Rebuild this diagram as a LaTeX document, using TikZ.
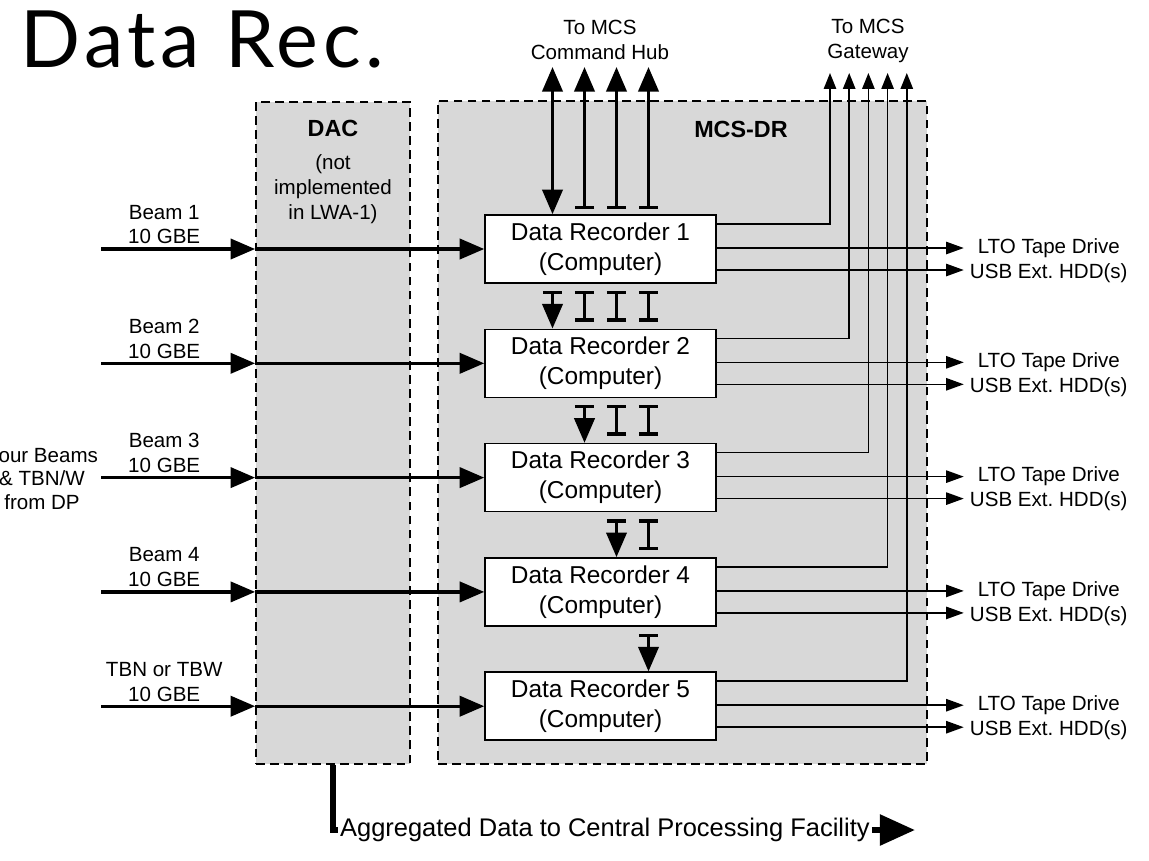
\documentclass[tikz,border=0pt]{standalone}
\usepackage{fontspec}
\setmainfont{Liberation Sans}
\newfontfamily\titlefont[LetterSpace=6]{Lato}
\usepackage{tikz}
\usetikzlibrary{arrows.meta,positioning,calc}
\definecolor{zonegray}{RGB}{216,216,216}

\begin{document}
\begin{tikzpicture}[x=0.02cm, y=-0.02cm,
    every node/.style={font=\fontsize{11.7}{14.2}\selectfont, align=center},
    zone/.style={draw, dash pattern=on 5pt off 3pt, line width=1pt, fill=zonegray, inner sep=0pt},
    zonelabel/.style={font=\fontsize{13.3}{16}\selectfont\bfseries},
    recorder/.style={draw, fill=white, line width=0.9pt, minimum width=4.62cm, minimum height=1.36cm, inner sep=0pt, font=\fontsize{13.9}{17}\selectfont},
    heavy/.style={line width=1.9pt, -{Triangle[length=14pt,width=11.5pt]}},
    feed/.style={line width=1.9pt, {Bar[width=11pt]}-{Triangle[length=14pt,width=11.5pt]}},
    passbar/.style={line width=1.9pt, {Bar[width=11pt]}-{Bar[width=11pt]}},
    light/.style={line width=0.85pt, -{Triangle[length=10pt,width=7pt]}}]
    \useasboundingbox (0,0) rectangle (1149,860);
    \node[anchor=base west, inner sep=0pt, font=\titlefont\fontsize{45}{50}\selectfont] (title) at (20,67) {Data Rec.};
    % the two dashed zones
    \node[zone, minimum width=3.08cm, minimum height=13.24cm] (dac) at (333,433) {};
    \node[zone, minimum width=9.78cm, minimum height=13.26cm] (mcsdr) at (682.5,432.5) {};
    \node[zonelabel] (daclab) at (333,128) {DAC};
    \node (dacnote) at (333,189) {(not\\implemented\\in LWA-1)};
    \node[zonelabel] (mcslab) at (741,129) {MCS-DR};
    \node (hublab) at (600,39.5) {To MCS\\Command Hub};
    \node (gwlab) at (868,40.5) {To MCS\\Gateway};
    \node[font=\fontsize{11.7}{13.6}\selectfont] (dpsrc) at (42,479) {Four Beams\\\& TBN/W\\from DP};
    % recorders
    \foreach \i [evaluate=\i as \y using 134.7+114.3*\i] in {1,...,5} {
        \node[recorder] (dr\i) at (600.5,\y) {Data Recorder \i\\(Computer)};
    }
    % inputs from DP
    \foreach \i/\lab in {1/Beam 1, 2/Beam 2, 3/Beam 3, 4/Beam 4, 5/TBN or TBW} {
        \path (dr\i.west) ++(-383,0) coordinate (src\i);
        \node (beam\i) at ($(src\i)+(63,-24.5)$) {\lab\\10 GBE};
        \draw[heavy] (src\i) -- (dac.west |- dr\i.west);
        \draw[heavy] (dac.west |- dr\i.west) -- (dr\i.west);
    }
    % outputs to tape and disk
    \foreach \i in {1,...,5} {
        \coordinate (tape\i) at ($(dr\i.east)+(247,-1)$);
        \coordinate (hdd\i) at ($(dr\i.east)+(247,21)$);
        \draw[light] (dr\i.east |- tape\i) -- (tape\i);
        \draw[light] (dr\i.east |- hdd\i) -- (hdd\i);
        \node (ltolab\i) at ($(tape\i)+(85,0)$) {LTO Tape Drive};
        \node (usblab\i) at ($(hdd\i)+(85,3)$) {USB Ext.\ HDD(s)};
    }
    % gateway links
    \foreach \i [evaluate=\i as \gx using 810.8+19.2*\i] in {1,...,5} {
        \coordinate (gw\i) at (\gx,73);
        \draw[light, -{Triangle[length=9pt,width=7pt]}] ($(dr\i.east)+(0,-25)$) -| (gw\i);
    }
    % command hub links
    \foreach \k [evaluate=\k as \hx using 552.5+32*\k] in {0,...,3} {
        \coordinate (hub\k) at (\hx,67);
    }
    \draw[line width=1.9pt, {Triangle[length=14pt,width=11.5pt]}-{Triangle[length=14pt,width=11.5pt]}] (hub0) -- (hub0 |- dr1.north);
    \foreach \k in {1,2,3} {
        \draw[feed] ($(hub\k |- dr1.north)+(0,-5)$) -- (hub\k);
    }
    \foreach \g [evaluate=\g as \n using int(\g+1), evaluate=\g as \a using int(\g-1)] in {1,...,4} {
        \draw[feed] ($(hub\a |- dr\g.south)+(0,7)$) -- (hub\a |- dr\n.north);
    }
    \foreach \g/\k [evaluate=\g as \n using int(\g+1)] in {1/1, 1/2, 1/3, 2/2, 2/3, 3/3} {
        \draw[passbar] ($(hub\k |- dr\g.south)+(0,7)$) -- ($(hub\k |- dr\n.north)+(0,-7)$);
    }
    % aggregated output
    \node[anchor=west, inner sep=1pt, font=\fontsize{14.5}{17}\selectfont] (agg) at (338,830) {Aggregated Data to Central Processing Facility};
    \coordinate (cpf) at (915,830);
    \draw[line width=3.5pt] (dac.south) |- (agg.west);
    \draw[line width=3.5pt, -{Triangle[length=20pt,width=17pt]}] (agg.east) -- (cpf);
\end{tikzpicture}
\end{document}
